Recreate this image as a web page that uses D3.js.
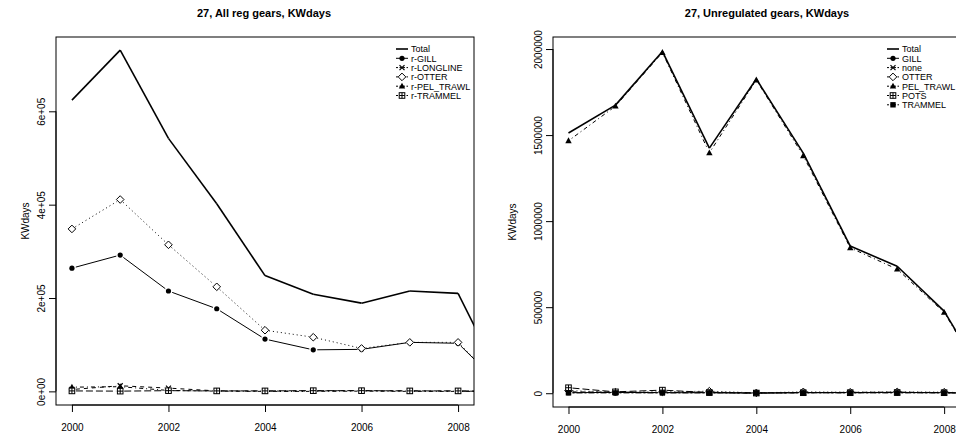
<!DOCTYPE html>
<html>
<head>
<meta charset="utf-8">
<script src="https://cdn.jsdelivr.net/npm/d3@7"></script>
<style>
body { margin:0; background:#fff; }
text { font-family: "Liberation Sans", Arial, sans-serif; }
</style>
</head>
<body>
<div id="chart"></div>
<script>
// years on the x axis (2009 is cut by the plot edge)
var years = [2000, 2001, 2002, 2003, 2004, 2005, 2006, 2007, 2008, 2009];

// left panel: all regulated gears
var leftNames = ['Total', 'r-GILL', 'r-LONGLINE', 'r-OTTER', 'r-PEL_TRAWL', 'r-TRAMMEL'];
var leftTotal     = [624000, 731000, 542000, 402000, 248000, 208000, 189000, 215000, 210000, 3000];
var leftGill      = [264000, 292000, 215000, 177000, 112000, 89000, 90000, 105000, 103000, 1000];
var leftLongline  = [4000, 12000, 7000, 1000, 500, 1000, 1500, 1000, 500, 0];
var leftOtter     = [348000, 411000, 314000, 224000, 131000, 116000, 92000, 105000, 105000, 1000];
var leftPelTrawl  = [9000, 10000, 2000, 500, 0, 0, 500, 0, 0, 0];
var leftTrammel   = [1000, 500, 1500, 1000, 1000, 1500, 1500, 1000, 1000, 0];
var leftTicks = [0, 200000, 400000, 600000];
var leftTickLabels = ['0e+00', '2e+05', '4e+05', '6e+05'];

// right panel: unregulated gears
var rightNames = ['Total', 'GILL', 'none', 'OTTER', 'PEL_TRAWL', 'POTS', 'TRAMMEL'];
var rightTotal    = [1512000, 1674000, 1986000, 1424000, 1826000, 1395000, 855000, 738000, 477000, 20000];
var rightGill     = [3000, 5000, 3000, 3000, 1000, 4000, 4000, 5000, 3000, 0];
var rightNone     = [8000, 6000, 4000, 6000, 2000, 4000, 5000, 6000, 4000, 0];
var rightOtter    = [15000, 6000, 8000, 12000, 2000, 8000, 6000, 8000, 6000, 0];
var rightPelTrawl = [1467000, 1668000, 1980000, 1397000, 1820000, 1380000, 845000, 721000, 470000, 15000];
var rightPots     = [32000, 8000, 18000, 4000, 1000, 3000, 3000, 4000, 3000, 0];
var rightTrammel  = [2000, 2000, 2000, 2000, 1000, 2000, 2000, 2000, 2000, 0];
var rightTicks = [0, 500000, 1000000, 1500000, 2000000];
var rightTickLabels = ['0', '500000', '1000000', '1500000', '2000000'];

var xTicks = [2000, 2002, 2004, 2006, 2008];

// line type + symbol for each series slot (R lty / pch order)
var styles = [
    {dash: null,      sym: 'none',   w: 1.6},
    {dash: null,      sym: 'circle', w: 1},
    {dash: '4,4',     sym: 'cross',  w: 1},
    {dash: '1,3',     sym: 'diamond',w: 1},
    {dash: '1,3,4,3', sym: 'triangle', w: 1},
    {dash: '7,3',     sym: 'boxplus', w: 1},
    {dash: '2,2,6,2', sym: 'square', w: 1}
];

var svg = d3.select("#chart")
    .append("svg")
        .attr("width", 956)
        .attr("height", 438);

function drawSymbol(g, kind, cx, cy) {
    if (kind == 'circle') {
        g.append("circle").attr("cx", cx).attr("cy", cy).attr("r", 2.6).style("fill", "black");
    } else if (kind == 'cross') {
        g.append("path").attr("d", "M"+(cx-2.5)+","+(cy-2.5)+"L"+(cx+2.5)+","+(cy+2.5)+"M"+(cx-2.5)+","+(cy+2.5)+"L"+(cx+2.5)+","+(cy-2.5))
            .style("stroke", "black").style("stroke-width", 1.2).style("fill", "none");
    } else if (kind == 'diamond') {
        g.append("path").attr("d", "M"+cx+","+(cy-3.8)+"L"+(cx+3.8)+","+cy+"L"+cx+","+(cy+3.8)+"L"+(cx-3.8)+","+cy+"Z")
            .style("stroke", "black").style("stroke-width", 1).style("fill", "white");
    } else if (kind == 'triangle') {
        g.append("path").attr("d", "M"+cx+","+(cy-3.4)+"L"+(cx+3.2)+","+(cy+2.4)+"L"+(cx-3.2)+","+(cy+2.4)+"Z")
            .style("fill", "black");
    } else if (kind == 'boxplus') {
        g.append("rect").attr("x", cx-2.8).attr("y", cy-2.8).attr("width", 5.6).attr("height", 5.6)
            .style("stroke", "black").style("stroke-width", 1).style("fill", "white");
        g.append("path").attr("d", "M"+(cx-2.8)+","+cy+"L"+(cx+2.8)+","+cy+"M"+cx+","+(cy-2.8)+"L"+cx+","+(cy+2.8))
            .style("stroke", "black").style("stroke-width", 1);
    } else if (kind == 'square') {
        g.append("rect").attr("x", cx-2.7).attr("y", cy-2.7).attr("width", 5.4).attr("height", 5.4).style("fill", "black");
    }
}

function drawPanel(p) {
    var x = d3.scaleLinear().domain(p.xdom).range([p.left, p.right]);
    var y = d3.scaleLinear().domain(p.ydom).range([p.bottom, p.top]);

    // title
    svg.append("text")
        .attr("x", p.titleX)
        .attr("y", 17)
        .attr("text-anchor", "middle")
        .style("font-size", "11px")
        .style("font-weight", "bold")
        .text(p.title);

    var clipId = "clip" + p.id;
    svg.append("clipPath").attr("id", clipId)
        .append("rect")
        .attr("x", p.left).attr("y", p.top)
        .attr("width", p.right - p.left).attr("height", p.bottom - p.top);

    var plot = svg.append("g").attr("clip-path", "url(#" + clipId + ")");

    // series, type="b" style: segments with gaps at the points
    p.series.forEach(function(vals, i) {
        var st = styles[i];
        var gap = st.sym == 'none' ? 0 : 4;
        for (var k = 0; k < years.length - 1; k++) {
            var x1 = x(years[k]), y1 = y(vals[k]), x2 = x(years[k+1]), y2 = y(vals[k+1]);
            var dx = x2 - x1, dy = y2 - y1, len = Math.sqrt(dx*dx + dy*dy);
            if (len <= 2*gap) continue;
            var ux = dx/len, uy = dy/len;
            plot.append("line")
                .attr("x1", x1 + ux*gap).attr("y1", y1 + uy*gap)
                .attr("x2", x2 - ux*gap).attr("y2", y2 - uy*gap)
                .style("stroke", "black")
                .style("stroke-width", st.w)
                .style("stroke-dasharray", st.dash);
        }
        if (st.sym != 'none') {
            var sg = plot.append("g");
            years.forEach(function(yr, k) {
                drawSymbol(sg, st.sym, x(yr), y(vals[k]));
            });
        }
    });

    // box
    svg.append("rect")
        .attr("x", p.left).attr("y", p.top)
        .attr("width", p.right - p.left).attr("height", p.bottom - p.top)
        .style("fill", "none").style("stroke", "black").style("stroke-width", 1);

    // x axis
    var xa = svg.append("g")
        .attr("transform", "translate(0," + p.bottom + ")")
        .call(d3.axisBottom(x).tickValues(xTicks).tickFormat(d3.format("d")).tickSize(7).tickSizeOuter(0));
    xa.select(".domain").remove();
    xa.append("line").attr("x1", x(xTicks[0])).attr("x2", x(xTicks[xTicks.length-1]))
        .style("stroke", "black");
    xa.selectAll("text").style("font-size", "10px").attr("dy", "1.55em");

    // y axis, labels turned like R
    var ya = svg.append("g")
        .attr("transform", "translate(" + p.left + ",0)")
        .call(d3.axisLeft(y).tickValues(p.ticks).tickFormat(function(d, i){ return p.tickLabels[i]; }).tickSize(7).tickSizeOuter(0));
    ya.select(".domain").remove();
    ya.append("line").attr("y1", y(p.ticks[0])).attr("y2", y(p.ticks[p.ticks.length-1]))
        .style("stroke", "black");
    ya.selectAll(".tick text")
        .attr("x", 0).attr("dy", 0)
        .attr("text-anchor", "middle")
        .attr("transform", "translate(-11,0) rotate(-90)")
        .style("font-size", "10px");

    svg.append("text")
        .attr("transform", "translate(" + p.labelX + "," + ((p.top + p.bottom)/2) + ") rotate(-90)")
        .attr("text-anchor", "middle")
        .style("font-size", "10px")
        .text("KWdays");

    // legend
    var lg = svg.append("g");
    p.names.forEach(function(name, i) {
        var st = styles[i];
        var ly = p.legY + i*9.3;
        lg.append("line")
            .attr("x1", p.legX).attr("x2", p.legX + 12)
            .attr("y1", ly).attr("y2", ly)
            .style("stroke", "black")
            .style("stroke-width", st.w)
            .style("stroke-dasharray", st.dash == null ? null : "2,1.5");
        drawSymbol(lg, st.sym, p.legX + 6, ly);
        lg.append("text")
            .attr("x", p.legX + 15).attr("y", ly + 3.3)
            .style("font-size", "9px")
            .text(name);
    });
}

drawPanel({
    id: 'L', title: '27, All reg gears, KWdays', titleX: 264,
    left: 56, right: 474, top: 37, bottom: 405,
    xdom: [1999.67, 2008.33], ydom: [-29200, 759200],
    series: [leftTotal, leftGill, leftLongline, leftOtter, leftPelTrawl, leftTrammel],
    names: leftNames, ticks: leftTicks, tickLabels: leftTickLabels,
    labelX: 29, legX: 396, legY: 49
});

drawPanel({
    id: 'R', title: '27, Unregulated gears, KWdays', titleX: 767,
    left: 553, right: 1008, top: 37, bottom: 407,
    xdom: [1999.67, 2009.36], ydom: [-80000, 2070000],
    series: [rightTotal, rightGill, rightNone, rightOtter, rightPelTrawl, rightPots, rightTrammel],
    names: rightNames, ticks: rightTicks, tickLabels: rightTickLabels,
    labelX: 516, legX: 887, legY: 49
});
</script>
</body>
</html>
